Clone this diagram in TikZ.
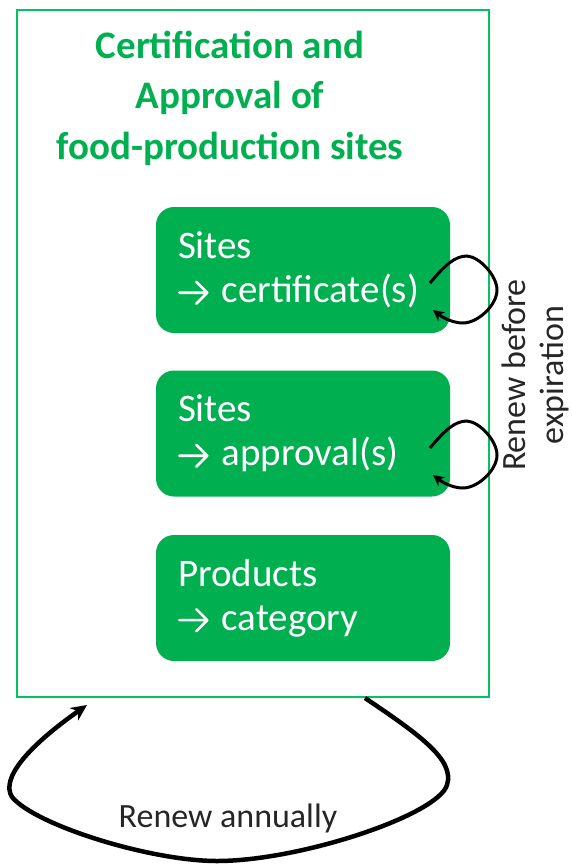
\documentclass[tikz,border=0pt]{standalone}
\usepackage{fontspec}
\setmainfont{Carlito}
\usepackage{xcolor}
\usepackage{tikz}
\usetikzlibrary{arrows.meta}

\definecolor{sitegreen}{HTML}{00B050}
\definecolor{framegreen}{HTML}{00C462}
\definecolor{labelgray}{HTML}{262626}

% open chevron arrow used in the site boxes
\newcommand{\sitearrow}{\tikz[baseline=0pt,x=1pt,y=1pt]
	\draw[white,sharp corners,line width=2.6pt,line cap=round,line join=round]
	(1,10) -- (29,10) (18,21) -- (29,10) -- (18,-1);}

\begin{document}
\begin{tikzpicture}[x=1pt,y=-1pt,
	sitebox/.style={rounded corners=18pt,fill=sitegreen,text=white,
		minimum width=294pt,minimum height=126pt,text width=250pt,
		align=left,inner xsep=22pt,font=\fontsize{39}{44}\selectfont},
	renewtext/.style={text=labelgray,align=center,font=\fontsize{34}{38}\selectfont},
	renewloop/.style={line width=3pt,-{Stealth[length=11pt,width=11pt]}},
	]
	\useasboundingbox (0,0) rectangle (573,865);
	\draw[framegreen,line width=1.2pt] (17,10) rectangle (489,697);
	%
	\node[text=sitegreen,align=center,font=\fontsize{39}{50.5}\selectfont\bfseries] (title) at (230,98)
		{Certification and\\Approval of\\food-production sites};
	\node[sitebox] (cert) at (303,270) {Sites\\\sitearrow\ certificate(s)};
	\node[sitebox] (appr) at (303,433.5) {Sites\\\sitearrow\ approval(s)};
	\node[sitebox] (prod) at (303,598) {Products\\\sitearrow\ category};
	%
	\node[renewtext,rotate=90] (expiry) at (535,375) {Renew before\\expiration};
	\node[renewtext] (annual) at (228,818) {Renew annually};
	%
	\coordinate (certout) at (430,283);
	\coordinate (certin) at (433,310);
	\coordinate (approut) at (430,448);
	\coordinate (apprin) at (433,475);
	\coordinate (frameout) at (365,698);
	\coordinate (framein) at (87,705);
	%
	\draw[renewloop] (certout) .. controls (445,265) and (455,256) .. (467,256)
		.. controls (480,257) and (497,276) .. (497,290)
		.. controls (497,305) and (478,323) .. (463,323)
		.. controls (452,323) and (442,317) .. (certin);
	\draw[renewloop] (approut) .. controls (445,430) and (455,421) .. (467,421)
		.. controls (480,422) and (497,441) .. (497,455)
		.. controls (497,470) and (478,488) .. (463,488)
		.. controls (452,488) and (442,482) .. (apprin);
	\draw[line width=4.5pt,-{Stealth[length=16pt,width=15pt]}] (frameout)
		.. controls (420,735) and (455,760) .. (447,785)
		.. controls (438,815) and (300,861) .. (217,861)
		.. controls (150,861) and (35,825) .. (12,797)
		.. controls (0,778) and (30,745) .. (framein);
\end{tikzpicture}
\end{document}
